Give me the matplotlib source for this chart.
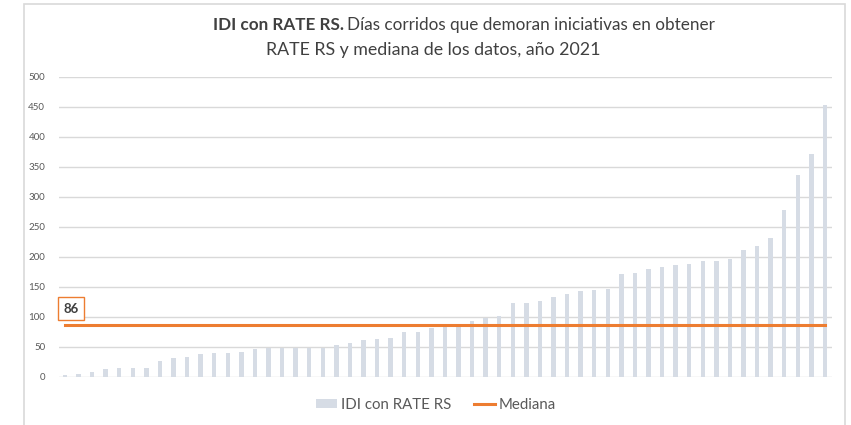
import matplotlib
matplotlib.use("Agg")
import matplotlib.pyplot as plt
import numpy as np
from matplotlib.patches import Rectangle

plt.rcParams['font.family'] = ['Lato', 'DejaVu Sans']

# dias corridos por iniciativa (ordenados)
dias = [3, 5, 9, 13, 15, 15, 15, 27, 32, 34, 38, 40, 40, 42, 46, 49, 49, 49,
        49, 49, 54, 57, 61, 63, 65, 75, 75, 81, 86, 89, 93, 99, 102, 124, 124,
        127, 133, 138, 143, 145, 147, 172, 174, 180, 184, 187, 189, 194, 194,
        197, 211, 219, 232, 278, 336, 371, 453]
mediana = 86
yticks = [0, 50, 100, 150, 200, 250, 300, 350, 400, 450, 500]

bar_color = '#D6DCE5'
line_color = '#ED7D31'
text_color = '#595959'

W, H = 851, 425
fig = plt.figure(figsize=(W / 100, H / 100), dpi=100)

# marco del grafico
fig.patches.append(Rectangle((24 / W, -0.1), (845 - 24) / W, 1.1 - 4.5 / H,
                             transform=fig.transFigure, fill=False,
                             edgecolor='#D9D9D9', linewidth=1.2))

ax = fig.add_axes([59 / W, 1 - 377 / H, (832 - 59) / W, 300 / H])
x = np.arange(len(dias))
bars = ax.bar(x, dias, width=0.33, color=bar_color, zorder=2)
line, = ax.plot(x, [mediana] * len(dias), color=line_color, linewidth=2.2,
                zorder=3)

ax.set_xlim(-0.44, len(dias) - 1 + 0.52)
ax.set_ylim(0, 500)
ax.set_yticks(yticks)
ax.set_xticks([])
ax.tick_params(axis='y', length=0, labelsize=7, labelcolor=text_color, pad=10)
ax.yaxis.grid(True, color='#D9D9D9', linewidth=1, zorder=0)
for s in ax.spines.values():
    s.set_visible(False)

ax.text(0.42, 114, str(mediana), ha='center', va='center', fontsize=9.5,
        fontweight='bold', color='#404040', zorder=4,
        bbox=dict(boxstyle='square,pad=0.4', facecolor='white',
                  edgecolor=line_color, linewidth=1))

# titulo: parte en negrita + resto normal
fig.canvas.draw()
r = fig.canvas.get_renderer()
t1 = fig.text(213 / W, 1 - 25 / H, 'IDI con RATE RS.', fontsize=12.3,
              fontweight='bold', color='#404040', va='center', ha='left')
bb = t1.get_window_extent(r)
fig.text((bb.x1 + 3) / W, 1 - 25 / H,
         'Días corridos que demoran iniciativas en obtener', fontsize=12.3,
         color='#404040', va='center', ha='left')
fig.text(433 / W, 1 - 50 / H, 'RATE RS y mediana de los datos, año 2021',
         fontsize=12.8, color='#404040', va='center', ha='center')

fig.legend([bars, line], ['IDI con RATE RS', 'Mediana'], loc='center',
           bbox_to_anchor=(436 / W, 1 - 405 / H), ncol=2,
           frameon=False, fontsize=10.8, labelcolor=text_color,
           handlelength=1.4, handleheight=0.6, handletextpad=0.25,
           columnspacing=1.5)

fig.savefig('out.png', dpi=100)
